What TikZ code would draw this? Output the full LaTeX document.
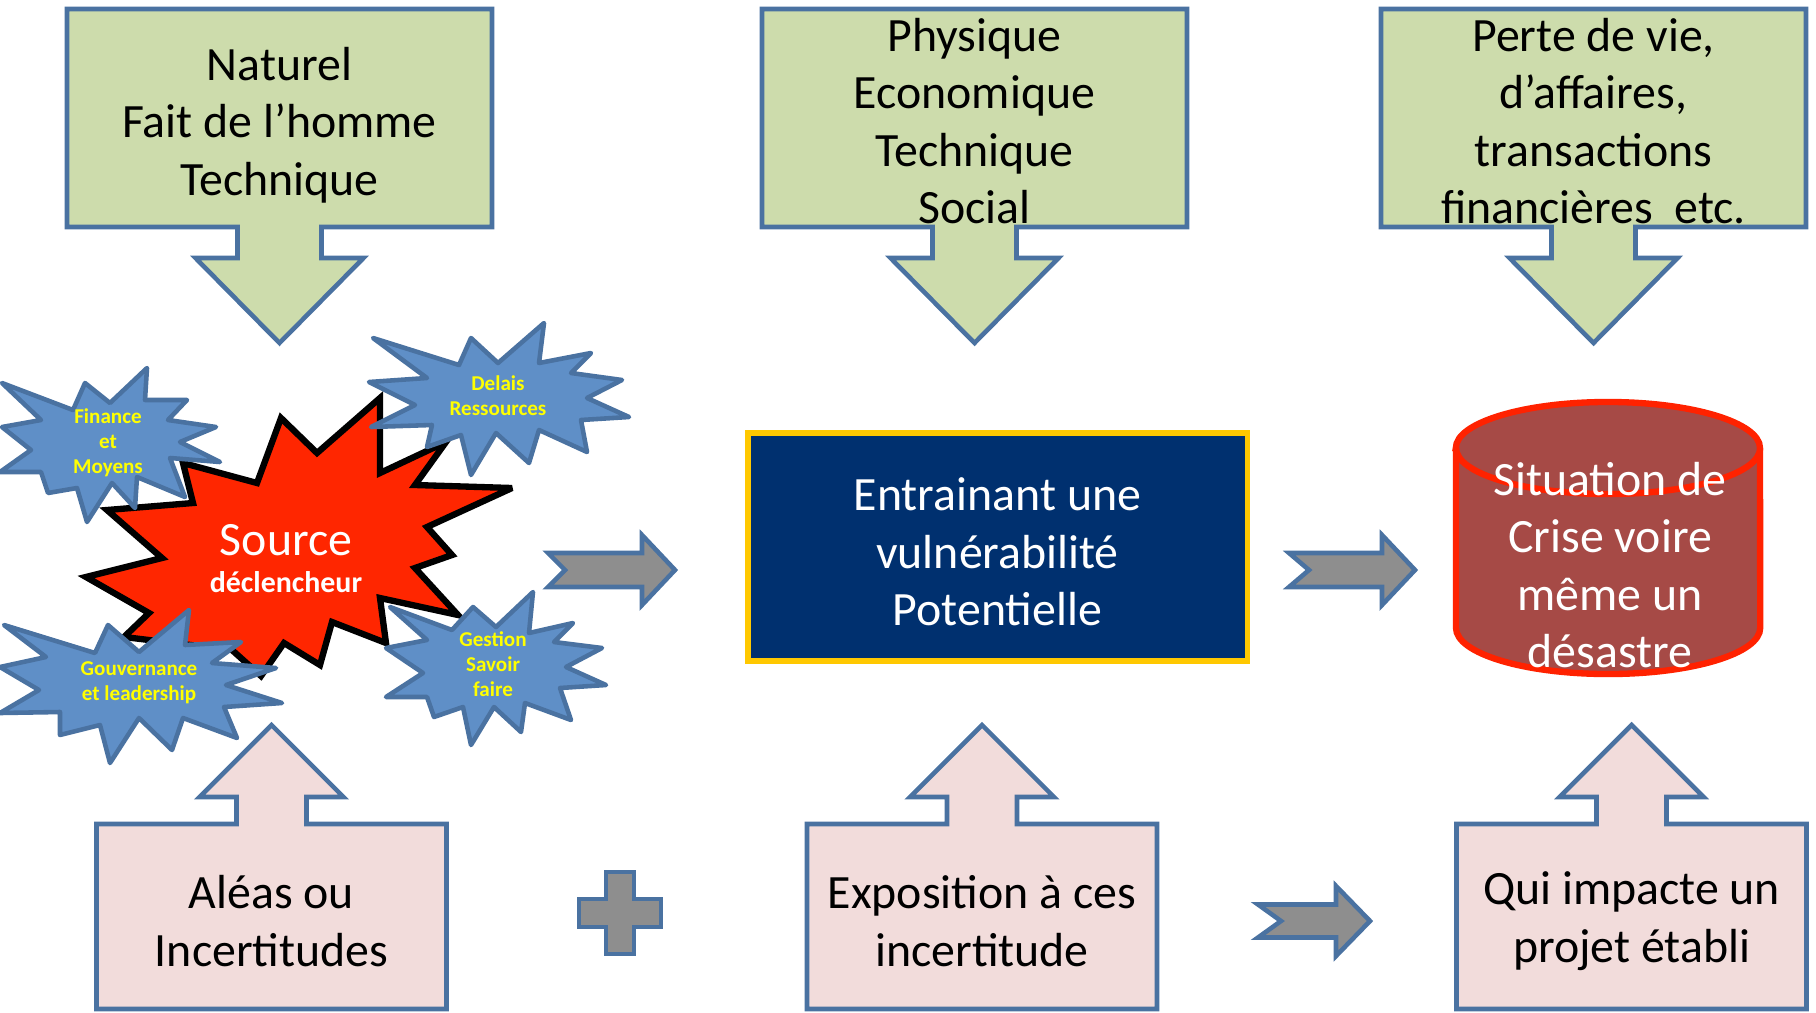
\documentclass[tikz,border=0pt]{standalone}
\usepackage{fontspec}
\setmainfont{Carlito}
\definecolor{Olive}{HTML}{CDDCAC}
\definecolor{Rose}{HTML}{F2DCDB}
\definecolor{Edge}{HTML}{4A72A1}
\definecolor{Steel}{HTML}{8E8E8E}
\definecolor{Sky}{HTML}{5F8FC7}
\definecolor{Flame}{HTML}{FF2600}
\definecolor{Navy}{HTML}{00306F}
\definecolor{Gold}{HTML}{FFC800}
\definecolor{Brick}{HTML}{A64A46}
\definecolor{Crimson}{HTML}{FF2200}
\definecolor{Lemon}{HTML}{FFFF00}
\tikzset{
    greencall/.style={fill=Olive, draw=Edge, line width=1.3pt},
    pinkcall/.style={fill=Rose, draw=Edge, line width=1.3pt},
    grayarrow/.style={fill=Steel, draw=Edge, line width=1.3pt},
    bluestar/.style={fill=Sky, draw=Edge, line width=1.3pt, line join=round},
    redstar/.style={fill=Flame, draw=black, line width=1.8pt, miter limit=4},
    crisis/.style={fill=Brick, draw=Crimson, line width=1.8pt},
    navybox/.style={rectangle, fill=Navy, draw=Gold, line width=1.5pt},
    boxtext/.style={align=center, text=black, font=\fontsize{13.6}{16.3}\selectfont},
    whitetext/.style={align=center, text=white, font=\fontsize{13.6}{16.3}\selectfont},
    startext/.style={align=center, text=Lemon, font=\bfseries\fontsize{6}{7.1}\selectfont},
}
\begin{document}
\begin{tikzpicture}[x=0.01cm, y=-0.01cm]
    \useasboundingbox (0,0) rectangle (1816,1012);

    % Top callouts (causes)
    \foreach \cx in {279.5, 974.5, 1593.5}
        \draw[greencall] (\cx-212.5,9) -- (\cx+212.5,9) -- (\cx+212.5,227) -- (\cx+42,227) -- (\cx+42,258) -- (\cx+84,258)
            -- (\cx,343) -- (\cx-84,258) -- (\cx-42,258) -- (\cx-42,227) -- (\cx-212.5,227) -- cycle;
    \node[boxtext] (nat) at (279.5,125) {Naturel\\Fait de l’homme\\Technique};
    \node[boxtext] (phys) at (974.5,121) {Physique\\Economique\\Technique\\Social};
    \node[boxtext] (perte) at (1593.5,121) {Perte de vie,\\d’affaires,\\transactions\\financières\ \ etc.};

    % Bottom callouts
    \foreach \cx in {271.5, 982, 1631.5}
        \draw[pinkcall] (\cx-175,1009) -- (\cx-175,824) -- (\cx-35,824) -- (\cx-35,797) -- (\cx-72,797) -- (\cx,725)
            -- (\cx+72,797) -- (\cx+35,797) -- (\cx+35,824) -- (\cx+175,824) -- (\cx+175,1009) -- cycle;
    \node[boxtext] (alea) at (271.5,921) {Aléas ou\\Incertitudes};
    \node[boxtext] (expo) at (982,921) {Exposition à ces\\incertitude};
    \node[boxtext] (impact) at (1631.5,921) {Qui impacte un\\projet établi};

    % Gray block arrows and plus
    \foreach \xa/\xn/\xh/\xt/\yc/\hs in {548/565/642/675/570/17, 1289/1309/1382/1415/570/17, 1258/1281/1336/1370/921/16.5}
        \draw[grayarrow] (\xa,\yc-\hs) -- (\xh,\yc-\hs) -- (\xh,\yc-35) -- (\xt,\yc) -- (\xh,\yc+35) -- (\xh,\yc+\hs)
            -- (\xa,\yc+\hs) -- (\xn,\yc) -- cycle;
    \draw[grayarrow] (606,872) -- (634,872) -- (634,899) -- (661,899) -- (661,927) -- (634,927) -- (634,954)
        -- (606,954) -- (606,927) -- (579,927) -- (579,899) -- (606,899) -- cycle;

    % Vulnerability
    \node[navybox, minimum width=4.99cm, minimum height=2.28cm] (vuln) at (997.5,547) {};
    \node[whitetext] (vulntext) at (997.5,552) {Entrainant une\\vulnérabilité\\Potentielle};

    % Crisis cylinder
    \draw[crisis] (1456,448) -- (1456,628) arc[start angle=180, end angle=360, x radius=1.52cm, y radius=0.46cm]
        -- (1760,448) arc[start angle=0, end angle=180, x radius=1.52cm, y radius=0.46cm] -- cycle;
    \draw[crisis, fill=none] (1456,448) arc[start angle=180, end angle=360, x radius=1.52cm, y radius=0.46cm];
    \node[whitetext] (crise) at (1610,565) {Situation de\\Crise voire\\même un\\désastre};

    % Source explosion
    \draw[redstar] (183,463) -- (193,503) -- (107,510) -- (162,558) -- (86,577) -- (149,613) -- (124,637) -- (232,650)
        -- (261,676) -- (284,643) -- (320,665) -- (332,622) -- (386,643) -- (380,598) -- (458,615) -- (415,568)
        -- (452,555) -- (427,527) -- (512,488) -- (415,485) -- (446,442) -- (380,473) -- (380,398) -- (317,453)
        -- (281,418) -- (257,483) -- cycle;
    \node[whitetext] (src) at (286,540) {Source};
    \node[text=white, font=\bfseries\fontsize{8.5}{10}\selectfont] (srcsub) at (286,582) {déclencheur};

    % Blue stars
    \draw[bluestar] (147,368) -- (145,400) -- (187,400) -- (168,420) -- (216,427) -- (180,442) -- (220,462) -- (170,458)
        -- (185,497) -- (137,477) -- (135,508) -- (112,483) -- (87,522) -- (77,488) -- (48,493) -- (41,472)
        -- (0,472) -- (31,450) -- (2,427) -- (41,420) -- (2,383) -- (73,410) -- (85,383) -- (110,403) -- cycle;
    \node[startext] (fin) at (108,443) {Finance\\et\\Moyens};

    \draw[bluestar] (544,323) -- (539,363) -- (591,353) -- (571,373) -- (622,380) -- (587,398) -- (629,417) -- (581,420)
        -- (587,452) -- (539,430) -- (529,463) -- (496,433) -- (471,475) -- (461,435) -- (427,447) -- (432,425)
        -- (371,427) -- (415,405) -- (369,382) -- (427,378) -- (373,338) -- (459,365) -- (471,338) -- (498,363) -- cycle;
    \node[startext] (delai) at (498,396) {Delais\\Ressources};

    \draw[bluestar] (189,610) -- (185,645) -- (241,642) -- (212,663) -- (276,668) -- (226,685) -- (282,703) -- (224,707)
        -- (237,738) -- (183,718) -- (172,750) -- (139,718) -- (110,763) -- (100,725) -- (60,735) -- (60,712)
        -- (0,713) -- (39,690) -- (0,667) -- (46,657) -- (4,625) -- (95,653) -- (108,625) -- (139,652) -- cycle;
    \node[startext] (gouv) at (139,683) {Gouvernance\\et leadership};

    \draw[bluestar] (533,592) -- (529,633) -- (573,623) -- (554,642) -- (602,648) -- (566,667) -- (606,685) -- (560,688)
        -- (571,720) -- (525,703) -- (521,732) -- (494,707) -- (471,745) -- (463,707) -- (434,717) -- (427,697)
        -- (386,697) -- (423,673) -- (386,648) -- (427,640) -- (390,607) -- (452,630) -- (473,607) -- (496,627) -- cycle;
    \node[startext] (gest) at (493,664) {Gestion\\Savoir\\faire};
\end{tikzpicture}
\end{document}
